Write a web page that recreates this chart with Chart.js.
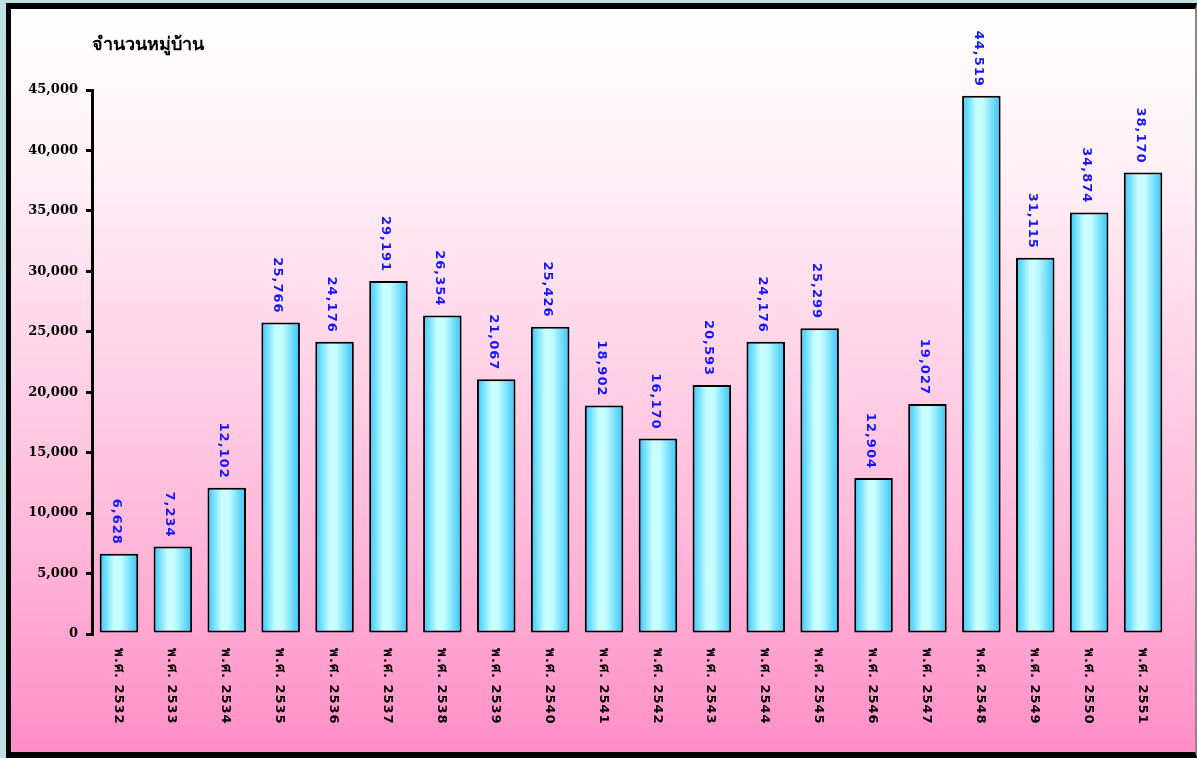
<!DOCTYPE html>
<html>
<head>
<meta charset="utf-8">
<script src="https://cdn.jsdelivr.net/npm/chart.js@4"></script>
<style>
  html, body { margin: 0; padding: 0; width: 1197px; height: 758px; overflow: hidden; background: #bfe0e2; }
  #frame {
    position: absolute; left: 6px; top: 3px; width: 1184px; height: 743px;
    border-left: 5px solid #000; border-top: 6px solid #000; border-bottom: 6px solid #000; border-right: 2px solid #888;
    background: linear-gradient(to bottom, #ffffff 0%, #fff2f7 20%, #ffd6e8 45%, #ffb3d7 75%, #ff8ec6 100%);
  }
  #wrap { position: absolute; left: 0; top: 0; width: 1197px; height: 758px; }
</style>
</head>
<body>
<div id="frame"></div>
<div id="wrap"><canvas id="chart" width="1197" height="758"></canvas></div>
<script>
// ---------------------------------------------------------------------------
// Data
// ---------------------------------------------------------------------------

const years = ['พ.ศ. 2532', 'พ.ศ. 2533', 'พ.ศ. 2534', 'พ.ศ. 2535', 'พ.ศ. 2536',
               'พ.ศ. 2537', 'พ.ศ. 2538', 'พ.ศ. 2539', 'พ.ศ. 2540', 'พ.ศ. 2541',
               'พ.ศ. 2542', 'พ.ศ. 2543', 'พ.ศ. 2544', 'พ.ศ. 2545', 'พ.ศ. 2546',
               'พ.ศ. 2547', 'พ.ศ. 2548', 'พ.ศ. 2549', 'พ.ศ. 2550', 'พ.ศ. 2551'];
const villages = [6628, 7234, 12102, 25766, 24176, 29191, 26354, 21067, 25426, 18902,
                  16170, 20593, 24176, 25299, 12904, 19027, 44519, 31115, 34874, 38170];
const yMax = 45000;
const yStep = 5000;
const yTitle = 'จำนวนหมู่บ้าน';

const BAR_PCT = 0.715;

function fmtN(v) { return Number(v).toLocaleString('en-US'); }

// horizontal cyan gradient per bar, computed from the x scale
function barFill(ctx) {
  const chart = ctx.chart;
  const xs = chart.scales.x;
  if (!xs || !chart.chartArea) return '#66ddff';
  const cx = xs.getPixelForValue(ctx.dataIndex);
  const half = (chart.chartArea.width / years.length) * BAR_PCT / 2;
  const g = chart.ctx.createLinearGradient(cx - half, 0, cx + half, 0);
  g.addColorStop(0, '#33c8ff');
  g.addColorStop(0.38, '#ccffff');
  g.addColorStop(0.55, '#c4fdff');
  g.addColorStop(1, '#33c4f8');
  return g;
}

// rotated value labels, x labels and axis title
const labelsPlugin = {
  id: 'labels',
  afterDatasetsDraw(chart) {
    const ctx = chart.ctx;
    const meta = chart.getDatasetMeta(0);
    ctx.save();
    ctx.letterSpacing = '1px';
    ctx.font = 'bold 13px "DejaVu Sans"';
    ctx.fillStyle = '#1414ff';
    ctx.textAlign = 'right';
    ctx.textBaseline = 'middle';
    meta.data.forEach((bar, i) => {
      ctx.save();
      ctx.translate(bar.x - 3, bar.y - 9);
      ctx.rotate(Math.PI / 2);
      ctx.fillText(fmtN(villages[i]), 0, 0);
      ctx.restore();
    });
    ctx.font = 'bold 13px "DejaVu Sans", "Noto Sans"';
    ctx.fillStyle = '#000';
    ctx.textAlign = 'left';
    meta.data.forEach((bar, i) => {
      ctx.save();
      ctx.translate(bar.x - 1, 648);
      ctx.rotate(Math.PI / 2);
      ctx.fillText(years[i], 0, 0);
      ctx.restore();
    });
    ctx.letterSpacing = '0px';
    ctx.font = 'bold 18px "DejaVu Serif", "Noto Sans"';
    ctx.fillText(yTitle, 92, 45);
    ctx.restore();
  }
};

new Chart(document.getElementById('chart').getContext('2d'), {
  type: 'bar',
  data: {
    labels: years,
    datasets: [{
      data: villages,
      backgroundColor: barFill,
      borderColor: '#000',
      borderWidth: 2,
      borderSkipped: false,
      barPercentage: BAR_PCT,
      categoryPercentage: 1
    }]
  },
  options: {
    responsive: false,
    animation: false,
    layout: { padding: { left: 0, right: 27, top: 90, bottom: 124 } },
    plugins: { legend: { display: false }, tooltip: { enabled: false } },
    scales: {
      x: { display: false },
      y: {
        min: 0, max: yMax,
        afterFit(scale) { scale.width = 92; },
        grid: { drawOnChartArea: false, color: '#000', lineWidth: 3, tickLength: 6 },
        border: { color: '#000', width: 3 },
        ticks: {
          stepSize: yStep,
          padding: 8,
          color: '#000',
          font: { family: '"DejaVu Serif"', weight: 'bold', size: 13 },
          callback: v => fmtN(v)
        }
      }
    }
  },
  plugins: [labelsPlugin]
});
</script>
</body>
</html>
